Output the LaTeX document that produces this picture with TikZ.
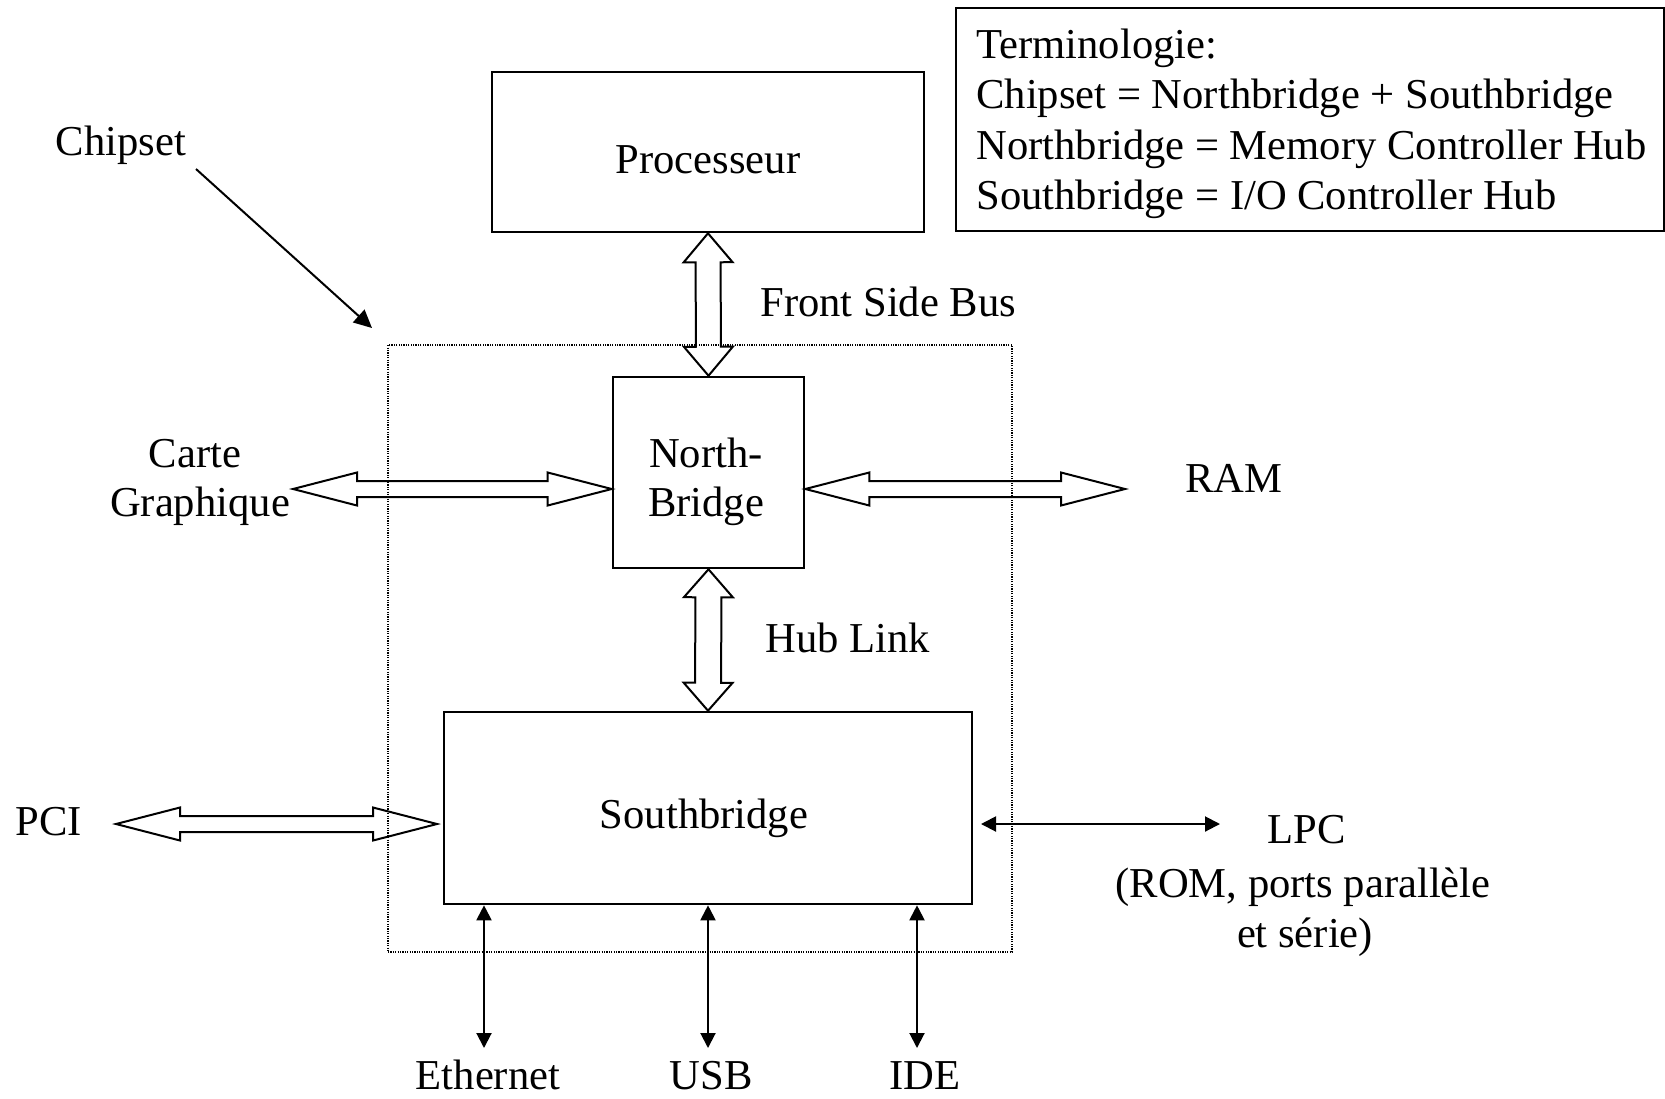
\documentclass[tikz,border=0pt]{standalone}
\usepackage{fontspec}
\setmainfont{Liberation Serif}
\usetikzlibrary{calc,arrows.meta}
\newcommand\hollowarrow[5]{%
\draw[hollow] (#1)
 -- ($(#1)!#5!(#2)!#4!90:(#2)$)
 -- ($(#1)!#5!(#2)!#3!90:(#2)$)
 -- ($(#2)!#5!(#1)!#3!-90:(#1)$)
 -- ($(#2)!#5!(#1)!#4!-90:(#1)$)
 -- (#2)
 -- ($(#2)!#5!(#1)!#4!90:(#1)$)
 -- ($(#2)!#5!(#1)!#3!90:(#1)$)
 -- ($(#1)!#5!(#2)!#3!-90:(#2)$)
 -- ($(#1)!#5!(#2)!#4!-90:(#2)$)
 -- cycle;}
\begin{document}
\begin{tikzpicture}[x=0.5pt,y=-0.5pt,
  txt/.style={font=\fontsize{21.3}{25.3}\selectfont, inner sep=0pt, anchor=base},
  txtl/.style={txt, anchor=base west},
  box/.style={draw, line width=1.3pt, inner sep=0pt},
  dotbox/.style={draw, line width=0.6pt, dash pattern=on 0.6pt off 0.6pt, inner sep=0pt},
  hollow/.style={line width=1pt, line join=miter},
  dbl/.style={line width=1pt, >={Triangle[length=7.5pt,width=7.5pt]}, <->},
  pointer/.style={line width=1pt, >={Triangle[length=9pt,width=8.5pt]}, ->}]
\useasboundingbox (0,0) rectangle (1665,1098);

% chipset dotted region
\node[dotbox, minimum width=312pt, minimum height=303.5pt] (chip) at (700,648.5) {};

% boxes
\node[box, minimum width=216pt, minimum height=80pt] (proc) at (708,152) {};
\node[box, minimum width=95.5pt, minimum height=95.5pt] (nb) at (708.5,472.5) {};
\node[box, minimum width=264pt, minimum height=96pt] (sb) at (708,808) {};
\node[box, minimum width=354pt, minimum height=111.5pt] (term) at (1310,119.5) {};

% box texts
\node[txt] (proct) at (708,173) {Processeur};
\node[txt] (nbt1) at (706,467) {North-};
\node[txt] (nbt2) at (706,516) {Bridge};
\node[txt] (sbt) at (704,828) {Southbridge};

% terminology
\node[txtl] (tl1) at (976,58) {Terminologie:};
\node[txtl] (tl2) at (976,108.6) {Chipset = Northbridge + Southbridge};
\node[txtl] (tl3) at (976,159.2) {Northbridge = Memory Controller Hub};
\node[txtl] (tl4) at (976,209.8) {Southbridge = I/O Controller Hub};

% labels
\node[txt] (chipt) at (121,155) {Chipset};
\node[txtl] (fsbt) at (760,316) {Front Side Bus};
\node[txtl] (hubt) at (765,652) {Hub Link};
\node[txt] (cg1) at (195,467) {Carte};
\node[txt] (cg2) at (200,516) {Graphique};
\node[txtl] (ramt) at (1185,492) {RAM};
\node[txtl] (pcit) at (15,835) {PCI};
\node[txt] (lpc1) at (1307,843) {LPC};
\node[txt] (lpc2) at (1303,897) {(ROM, ports parallèle};
\node[txt] (lpc3) at (1305,947) {et série)};
\node[txt] (etht) at (488,1089) {Ethernet};
\node[txt] (usbt) at (711,1089) {USB};
\node[txt] (idet) at (925,1089) {IDE};

% coordinates
\coordinate (cgL) at (293,489);
\coordinate (ramR) at (1125,489);
\coordinate (pciL) at (116,824);
\coordinate (pciR) at (437,824);
\coordinate (lpcL) at (981,824);
\coordinate (lpcR) at (1220,824);
\coordinate (ethE) at (484,1048);
\coordinate (usbE) at (708,1048);
\coordinate (ideE) at (917,1048);
\coordinate (chipS) at (196,169);
\coordinate (chipE) at (372,328);
\coordinate (nbW) at (nb.west |- cgL);
\coordinate (nbE) at (nb.east |- cgL);

% hollow buses
\hollowarrow{proc.south}{nb.north}{6.25pt}{12.25pt}{14.5pt}
\hollowarrow{nb.south}{sb.north}{6.5pt}{12.25pt}{14pt}
\hollowarrow{cgL}{nbW}{4pt}{8.25pt}{32pt}
\hollowarrow{nbE}{ramR}{4pt}{8.25pt}{32pt}
\hollowarrow{pciL}{pciR}{4pt}{8.25pt}{32pt}

% thin arrows
\draw[dbl] (lpcL) -- (lpcR);
\draw[dbl] (sb.south -| ethE) -- (ethE);
\draw[dbl] (sb.south -| usbE) -- (usbE);
\draw[dbl] (sb.south -| ideE) -- (ideE);
\draw[pointer] (chipS) -- (chipE);
\end{tikzpicture}
\end{document}
